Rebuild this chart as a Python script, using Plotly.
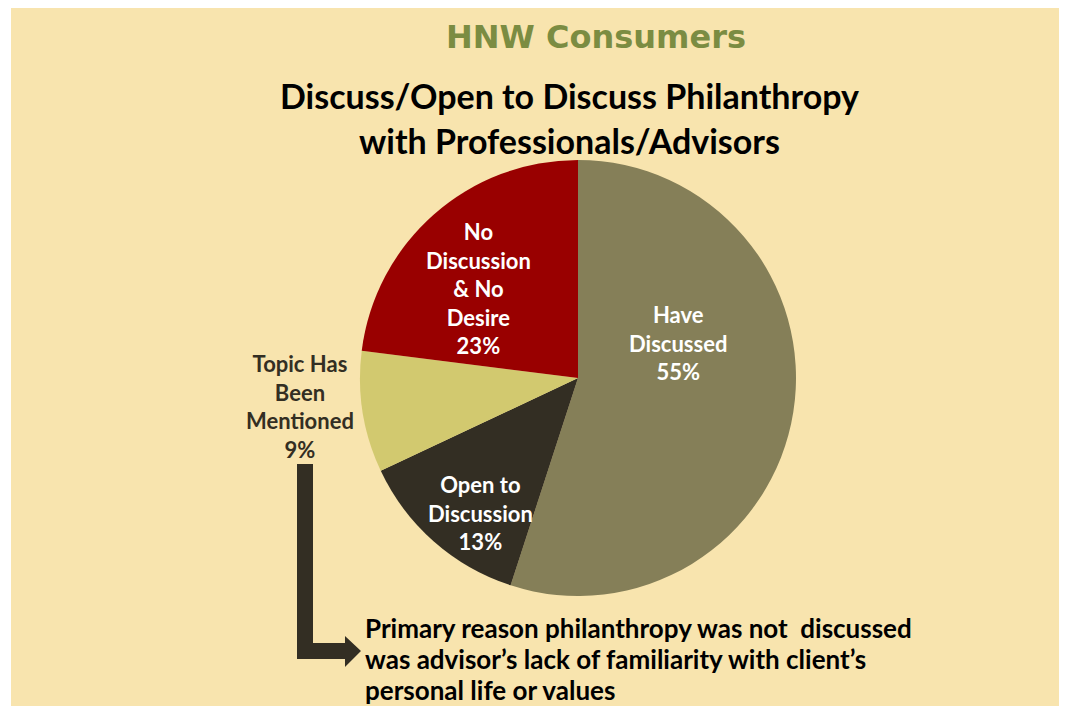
import plotly.graph_objects as go

# ---- data ----
labels = ["Have Discussed", "Open to Discussion", "Topic Has Been Mentioned", "No Discussion & No Desire"]
label_lines = ["Have<br>Discussed", "Open to<br>Discussion", "Topic Has<br>Been<br>Mentioned", "No<br>Discussion<br>& No<br>Desire"]
values = [55, 13, 9, 23]
colors = ["#857F58", "#332E23", "#D2C96F", "#990000"]
text_colors = ["white", "white", "#332E23", "white"]

title_top = "HNW Consumers"
title_lines = ["Discuss/Open to Discuss Philanthropy", "with Professionals/Advisors"]
note_lines = ["Primary reason philanthropy was not  discussed",
              "was advisor\u2019s lack of familiarity with client\u2019s",
              "personal life or values"]

# page is offset by the default 8px body margin
OFF = 8
W, H = 1059, 698
BG = "#F8E4AE"
FONT = "Lato"


def px(x):
    return (x - OFF) / W


def py(y):
    return 1 - (y - OFF) / H


cx, cy, r = 578, 378, 218

fig = go.Figure()
fig.add_trace(go.Pie(
    labels=labels,
    values=values,
    textinfo="none",
    marker=dict(colors=colors, line=dict(width=0)),
    sort=False,
    direction="clockwise",
    rotation=0,
    showlegend=False,
    hoverinfo="label+percent",
    domain=dict(x=[px(cx - r), px(cx + r)], y=[py(cy + r), py(cy - r)]),
))


def ann(text, x, y, size, color, xanchor="center", family=FONT, align="center"):
    return dict(text=text, x=px(x), y=py(y), xref="paper", yref="paper",
                xanchor=xanchor, yanchor="middle", showarrow=False, align=align,
                font=dict(family=family, size=size, color=color))


total = sum(values)
label_pos = [(678, 343), (480, 513), (300, 406), (478, 288)]
annotations = []
for idx, (lx, ly) in enumerate(label_pos):
    pct = round(100 * values[idx] / total)
    annotations.append(ann(f"<b>{label_lines[idx]}<br>{pct}%</b>", lx, ly, 22, text_colors[idx]))

annotations.append(ann(f"<b>{title_top}</b>", 596, 37, 32, "#7B8C42", family="DejaVu Sans"))
for i, t in enumerate(title_lines):
    annotations.append(ann(f"<b>{t}</b>", 569, 96 + 44 * i, 34, "black"))
for i, t in enumerate(note_lines):
    annotations.append(ann(f"<b>{t}</b>", 363, 628 + 31 * i, 26, "black", xanchor="left", align="left"))

arrow_pts = [(297, 464), (313, 464), (313, 643), (345, 643), (345, 636), (361, 651),
             (345, 667), (345, 659), (297, 659)]
path = "M " + " L ".join(f"{px(x):.5f} {py(y):.5f}" for x, y in arrow_pts) + " Z"

shapes = [
    dict(type="rect", xref="paper", yref="paper", x0=px(11), x1=1, y0=0, y1=1,
         fillcolor=BG, line=dict(width=0), layer="below"),
    dict(type="path", xref="paper", yref="paper", path=path, fillcolor="#332E23",
         line=dict(width=0)),
]

fig.update_layout(
    width=W, height=H,
    margin=dict(l=0, r=0, t=0, b=0),
    paper_bgcolor="white",
    plot_bgcolor="white",
    annotations=annotations,
    shapes=shapes,
    font=dict(family=FONT),
)

fig.write_html("out.html", config={"responsive": False})
